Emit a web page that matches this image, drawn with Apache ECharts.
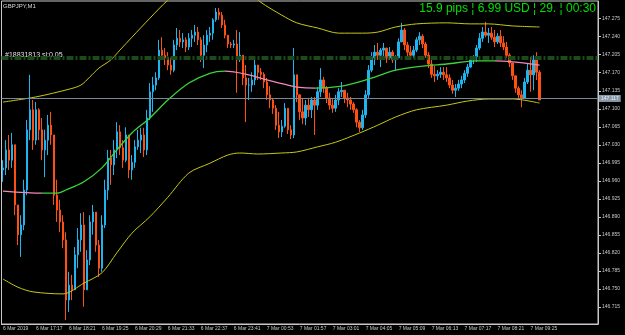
<!DOCTYPE html>
<html><head><meta charset="utf-8">
<script src="https://cdn.jsdelivr.net/npm/echarts@6/dist/echarts.min.js"></script>
<style>html,body{margin:0;padding:0;background:#000;}#c{width:625px;height:335px;}</style>
</head><body><div id="c"></div>
<script>
const symbolTitle = 'GBPJPY,M1';
const infoText = '15.9 pips ¦ 6.99 USD ¦ 29. ¦ 00:30';
const orderLabel = '#18831813 sl:0.05';
const xTickLabels = ['6 Mar 2019','6 Mar 17:17','6 Mar 18:21','6 Mar 19:25','6 Mar 20:29','6 Mar 21:33','6 Mar 22:37','6 Mar 23:41','7 Mar 00:53','7 Mar 01:57','7 Mar 03:01','7 Mar 04:05','7 Mar 05:09','7 Mar 06:13','7 Mar 07:17','7 Mar 08:21','7 Mar 09:25'];
const yTickValues = [146.715,146.750,146.785,146.820,146.855,146.890,146.925,146.960,146.995,147.030,147.065,147.100,147.135,147.170,147.205,147.240,147.275];
const bidPrice = 147.117;
const orderPrice = 147.199;
const firstOpen = 146.981;
const closes = [
146.985,147.020,147.000,147.030,146.913,146.855,146.874,146.942,147.059,147.098,
147.039,147.098,147.059,147.020,147.039,147.068,147.049,146.932,146.903,146.880,
146.845,146.728,146.757,146.748,146.816,146.845,146.874,146.748,146.806,146.880,
146.899,146.835,146.790,146.874,146.942,147.004,146.991,147.020,147.055,147.024,
147.000,147.049,146.981,146.996,147.026,147.039,147.049,147.020,147.082,147.133,
147.146,147.160,147.214,147.204,147.199,147.185,147.175,147.224,147.237,147.230,
147.234,147.220,147.237,147.243,147.249,147.234,147.204,147.224,147.243,147.247,
147.273,147.288,147.282,147.263,147.243,147.226,147.224,147.226,147.195,147.204,
147.160,147.146,147.146,147.156,147.185,147.171,147.167,147.152,147.127,147.117,
147.101,147.068,147.055,147.066,147.101,147.059,147.049,147.166,147.127,147.094,
147.082,147.107,147.098,147.117,147.107,147.133,147.156,147.140,147.121,147.107,
147.101,147.117,147.133,147.136,147.121,147.117,147.109,147.098,147.074,147.063,
147.088,147.127,147.175,147.199,147.210,147.204,147.214,147.218,147.199,147.210,
147.195,147.199,147.230,147.253,147.224,147.210,147.204,147.214,147.234,147.241,
147.226,147.204,147.187,147.167,147.164,147.167,147.171,147.166,147.160,147.146,
147.136,147.140,147.148,147.156,147.169,147.181,147.195,147.201,147.218,147.237,
147.249,147.243,147.247,147.239,147.230,147.241,147.228,147.220,147.204,147.189,
147.164,147.140,147.127,147.121,147.152,147.175,147.166,147.195,147.171,147.117];
const highs = [
147.000,147.039,147.049,147.053,146.991,146.913,146.893,146.962,147.078,147.166,
147.117,147.113,147.101,147.082,147.059,147.088,147.094,147.020,146.962,146.923,
146.893,146.860,146.783,146.777,146.831,146.868,146.897,146.899,146.825,146.893,
146.913,146.893,146.845,146.893,146.962,147.020,147.020,147.039,147.074,147.068,
147.039,147.064,147.039,147.010,147.039,147.059,147.063,147.063,147.098,147.150,
147.162,147.171,147.234,147.239,147.218,147.210,147.199,147.234,147.257,147.253,
147.247,147.239,147.247,147.253,147.263,147.259,147.239,147.243,147.253,147.259,
147.276,147.296,147.296,147.288,147.273,147.243,147.230,147.234,147.253,147.249,
147.204,147.185,147.160,147.171,147.201,147.185,147.179,147.171,147.160,147.144,
147.121,147.107,147.094,147.078,147.111,147.101,147.068,147.218,147.166,147.127,
147.121,147.117,147.121,147.123,147.123,147.142,147.179,147.162,147.144,147.131,
147.121,147.127,147.140,147.152,147.136,147.131,147.123,147.113,147.101,147.078,
147.098,147.136,147.185,147.210,147.224,147.228,147.218,147.228,147.218,147.220,
147.214,147.204,147.237,147.267,147.257,147.230,147.222,147.222,147.239,147.249,
147.245,147.230,147.210,147.195,147.183,147.175,147.181,147.181,147.181,147.167,
147.156,147.148,147.156,147.164,147.175,147.187,147.199,147.204,147.224,147.247,
147.259,147.269,147.257,147.259,147.253,147.247,147.253,147.241,147.230,147.208,
147.189,147.164,147.144,147.136,147.160,147.187,147.201,147.204,147.210,147.175];
const lows = [
146.958,146.971,146.981,146.985,146.893,146.835,146.812,146.864,146.932,147.039,
147.020,147.030,147.039,147.000,146.967,147.010,147.030,146.913,146.880,146.860,
146.829,146.689,146.705,146.728,146.767,146.790,146.822,146.715,146.752,146.796,
146.855,146.822,146.773,146.783,146.868,146.923,146.952,146.971,147.004,147.010,
146.985,146.996,146.965,146.962,146.985,147.020,147.014,147.006,147.010,147.078,
147.094,147.136,147.156,147.195,147.185,147.175,147.166,147.171,147.214,147.220,
147.218,147.210,147.214,147.220,147.230,147.224,147.191,147.179,147.210,147.230,
147.234,147.269,147.273,147.257,147.237,147.218,147.218,147.218,147.131,147.191,
147.146,147.074,147.117,147.133,147.146,147.156,147.156,147.140,147.117,147.101,
147.090,147.059,147.043,147.045,147.063,147.051,147.041,147.043,147.113,147.078,
147.070,147.068,147.084,147.082,147.049,147.098,147.123,147.131,147.111,147.098,
147.092,147.094,147.107,147.123,147.111,147.103,147.098,147.092,147.064,147.055,
147.059,147.082,147.121,147.171,147.185,147.195,147.181,147.201,147.189,147.195,
147.189,147.175,147.199,147.234,147.214,147.201,147.195,147.199,147.210,147.224,
147.218,147.199,147.179,147.160,147.152,147.156,147.160,147.156,147.152,147.140,
147.129,147.123,147.135,147.140,147.150,147.162,147.179,147.187,147.191,147.214,
147.230,147.239,147.228,147.234,147.220,147.226,147.220,147.214,147.199,147.181,
147.156,147.131,147.117,147.103,147.121,147.148,147.133,147.136,147.156,147.117];
const upperEnv = [[0,147.113],[11,147.123],[22,147.138],[26,147.146],[29,147.162],[32,147.179],[36,147.195],[39,147.214],[43,147.239],[49,147.276],[55,147.311],[62,147.340],[72,147.355],[80,147.335],[86,147.307],[93,147.282],[98,147.267],[105,147.257],[112,147.247],[120,147.247],[125,147.249],[131,147.259],[138,147.265],[148,147.267],[156,147.265],[162,147.265],[170,147.261],[179,147.259]];
const lowerEnv = [[0,146.769],[5,146.753],[10,146.744],[20,146.740],[27,146.761],[33,146.781],[38,146.820],[43,146.858],[49,146.890],[55,146.928],[62,146.975],[69,146.994],[75,147.010],[79,147.014],[85,147.012],[93,147.014],[98,147.016],[105,147.026],[111,147.035],[119,147.053],[125,147.068],[131,147.084],[138,147.098],[148,147.107],[155,147.115],[162,147.119],[170,147.119],[179,147.111]];
const maLine = [[0,146.940],[13,146.936],[18,146.936],[21,146.942],[27,146.958],[33,146.985],[38,147.020],[43,147.053],[49,147.082],[55,147.117],[62,147.150],[69,147.169],[74,147.173],[82,147.166],[88,147.156],[95,147.146],[98,147.142],[104,147.140],[113,147.144],[121,147.156],[131,147.175],[140,147.183],[148,147.187],[158,147.193],[164,147.193],[179,147.185]];
const maTurns = [13,74,104,164];

const NCAT = 199, STEP = 11;
const cats = [];
for (let i = 0; i < NCAT; i++) cats.push(i % STEP === 0 && xTickLabels[i / STEP] ? xTickLabels[i / STEP] : '');
const candles = closes.map((c, i) => {
  const o = i === 0 ? firstOpen : closes[i - 1];
  return [o, c, Math.min(lows[i], o, c), Math.max(highs[i], o, c)];
});
const AX = '#c8c8c8', GREEN = '#3cd23c', PINK = '#f088b8', YEL = '#c8c814';
const chart = echarts.init(document.getElementById('c'), null, {renderer: 'canvas'});
chart.setOption({
  backgroundColor: '#000',
  animation: false,
  grid: {left: 1, right: 27, top: 1, bottom: 11, show: true, borderColor: AX, borderWidth: 1, backgroundColor: 'transparent'},
  xAxis: {
    type: 'category', data: cats, boundaryGap: true,
    axisLine: {lineStyle: {color: AX}},
    axisTick: {interval: (i) => i % STEP === 0, length: 4, lineStyle: {color: AX}},
    axisLabel: {interval: (i) => i % STEP === 0, align: 'left', fontSize: 5, color: AX, margin: 2, fontFamily: 'Liberation Sans'},
    splitLine: {show: false}
  },
  yAxis: {
    type: 'value', position: 'right', min: 146.6815, max: 147.3095, scale: true,
    axisLine: {show: true, lineStyle: {color: AX}},
    axisTick: {show: true, customValues: yTickValues, length: 3, lineStyle: {color: AX}},
    axisLabel: {customValues: yTickValues, formatter: (v) => v.toFixed(3), fontSize: 5, color: AX, margin: 4, fontFamily: 'Liberation Sans'},
    splitLine: {show: false}
  },
  visualMap: {
    show: false, type: 'piecewise', seriesIndex: 3, dimension: 0,
    pieces: [
      {lt: maTurns[0], color: PINK},
      {gte: maTurns[0], lt: maTurns[1], color: GREEN},
      {gte: maTurns[1], lt: maTurns[2], color: PINK},
      {gte: maTurns[2], lt: maTurns[3], color: GREEN},
      {gte: maTurns[3], color: PINK}
    ]
  },
  series: [
    {
      type: 'candlestick', data: candles, barWidth: 2,
      itemStyle: {color: '#1eb4f0', color0: '#ff5014', borderColor: '#1eb4f0', borderColor0: '#ff5014', borderWidth: 1},
      markLine: {
        silent: true, symbol: 'none', animation: false,
        data: [
          {yAxis: orderPrice, lineStyle: {color: '#1b4b1b', width: 4, type: [7, 2, 2, 2]}, label: {show: false}},
          {yAxis: bidPrice, lineStyle: {color: '#778899', width: 1, type: 'solid'},
           label: {show: true, position: 'end', distance: 1, formatter: () => bidPrice.toFixed(3), backgroundColor: '#8899aa', color: '#e8eef4', fontSize: 5, padding: [1, 2], fontFamily: 'Liberation Sans'}}
        ]
      }
    },
    {type: 'line', data: upperEnv, smooth: 0.3, symbol: 'none', lineStyle: {color: YEL, width: 1}},
    {type: 'line', data: lowerEnv, smooth: 0.3, symbol: 'none', lineStyle: {color: YEL, width: 1}},
    {type: 'line', data: maLine, smooth: 0.3, symbol: 'none', lineStyle: {width: 1.3}}
  ],
  graphic: [
    {type: 'text', left: 3, top: 3, style: {text: symbolTitle, fill: '#d8d8d8', fontSize: 6, fontFamily: 'Liberation Sans'}},
    {type: 'text', left: 5, top: 52, style: {text: orderLabel, fill: '#e4e4e4', fontSize: 7, fontFamily: 'Liberation Sans'}},
    {type: 'text', right: 29, top: 3, style: {text: infoText, fill: '#00e000', fontSize: 12, fontFamily: 'Liberation Sans'}}
  ]
});
</script></body></html>
